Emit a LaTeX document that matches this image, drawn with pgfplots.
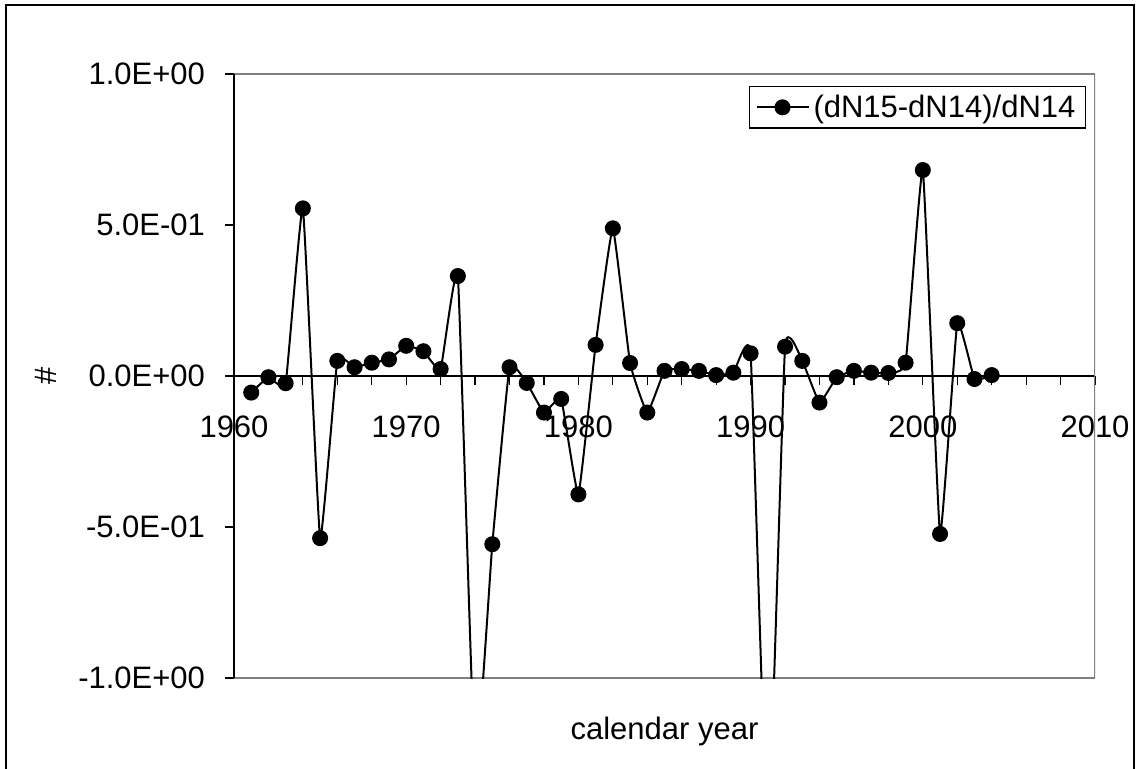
\documentclass[border=0pt]{standalone}
\usepackage{fontspec}
\setmainfont{Liberation Sans}
\usepackage{pgfplots}
\pgfplotsset{compat=1.18}
\begin{document}
\begin{tikzpicture}[font=\fontsize{15.5}{18.6}\selectfont]
\useasboundingbox (0pt,0pt) rectangle (569pt,-384.5pt);
\draw[line width=1pt] (3pt,-395pt) -- (3pt,-2.5pt) -- (567pt,-2.5pt) -- (567pt,-395pt);
\begin{axis}[
  at={(117pt,-339pt)}, anchor=south west,
  width=430.5pt, height=302pt, scale only axis,
  xmin=1960, xmax=2010, ymin=-1, ymax=1,
  axis x line=middle, axis y line=left,
  axis line style={-},
  x axis line style={line width=0.6pt},
  y axis line style={line width=0.8pt},
  hide obscured x ticks=false,
  tick label style={font=\fontsize{15.5}{18.6}\selectfont},
  xtick={1960,1962,...,2010},
  xticklabels={1960,,,,,1970,,,,,1980,,,,,1990,,,,,2000,,,,,2010},
  xtick align=outside,
  major tick length=4.5pt,
  xticklabel style={anchor=north, yshift=-12pt},
  ytick={-1,-0.5,0,0.5,1},
  yticklabels={-1.0E+00,-5.0E-01,0.0E+00,5.0E-01,1.0E+00},
  ytick align=outside, ytick pos=left,
  yticklabel style={anchor=east, xshift=-6.5pt},
  tick style={black, line width=0.6pt},
  every axis y label/.style={at={(rel axis cs:0,0.5)}, anchor=center, xshift=-94pt, rotate=90, font=\fontsize{15.5}{18.6}\selectfont},
  every axis x label/.style={at={(rel axis cs:0.5,0)}, anchor=base, yshift=-30.5pt, font=\fontsize{15.5}{18.6}\selectfont},
  xlabel={calendar year}, ylabel={\#},
  legend style={at={(rel axis cs:1,1)}, anchor=north east, xshift=-4.5pt, yshift=-6pt,
    draw=black, line width=0.6pt, inner xsep=3pt, inner ysep=2pt, font=\fontsize{15.5}{18.6}\selectfont},
  legend cell align=left,
  legend image code/.code={\draw[mark repeat=2,mark phase=2,line width=1pt] plot coordinates {(0pt,0pt) (13pt,0pt) (26pt,0pt)};},
  clip=true,
]
\draw[gray, line width=1pt] (rel axis cs:0,0) -- (rel axis cs:1,0) -- (rel axis cs:1,1) -- (rel axis cs:0,1);
\draw[black, line width=0.8pt] (rel axis cs:0,0) -- (rel axis cs:0,1);
\addplot[black, line width=1pt, smooth, tension=0.2, mark=*, mark size=3.5pt, mark options={solid, fill=black}]
coordinates {
(1961,-0.055) (1962,-0.004) (1963,-0.024) (1964,0.555) (1965,-0.537)
(1966,0.050) (1967,0.029) (1968,0.044) (1969,0.055) (1970,0.100)
(1971,0.082) (1972,0.023) (1973,0.331) (1974,-1.3) (1975,-0.557)
(1976,0.029) (1977,-0.023) (1978,-0.121) (1979,-0.076) (1980,-0.392)
(1981,0.103) (1982,0.489) (1983,0.043) (1984,-0.121) (1985,0.017)
(1986,0.023) (1987,0.017) (1988,0.003) (1989,0.011) (1990,0.075)
(1991,-1.55) (1992,0.097) (1993,0.050) (1994,-0.088) (1995,-0.004)
(1996,0.017) (1997,0.011) (1998,0.010) (1999,0.044) (2000,0.682)
(2001,-0.523) (2002,0.175) (2003,-0.010) (2004,0.003)
};
\addlegendentry{(dN15-dN14)/dN14}
\end{axis}
\end{tikzpicture}
\end{document}
